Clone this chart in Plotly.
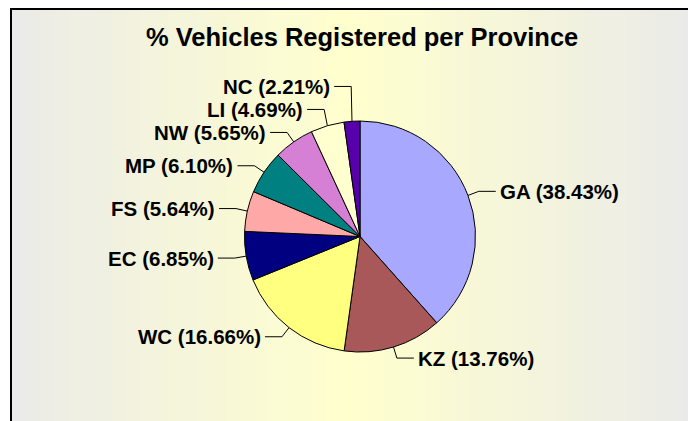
import math
import plotly.graph_objects as go

# ---- data ----
provinces = ["GA", "KZ", "WC", "EC", "FS", "MP", "NW", "LI", "NC"]
shares = [38.43, 13.76, 16.66, 6.85, 5.64, 6.10, 5.65, 4.69, 2.21]
colors = ["#a8a8ff", "#a85858", "#ffff80", "#000080", "#ffa8a8",
          "#008080", "#d580d5", "#ffffd0", "#5500aa"]
title_text = "% Vehicles Registered per Province"

OFF = 8  # page body margin offset
W, H = 696 - OFF, 421 - OFF
CX, CY, R = 360 - OFF, 236.5 - OFF, 115.5
FONT = "Arial, Liberation Sans, sans-serif"

fig = go.Figure()

# background gradient strips and border
shapes = []
x0, x1, y0 = 11 - OFF, W + 2, 9 - OFF
n = 48
edge = (234, 234, 234)
mid = (255, 255, 206)
for i in range(n):
    a = x0 + (x1 - x0) * i / n
    b = x0 + (x1 - x0) * (i + 1) / n
    xc = (a + b) / 2 + OFF
    t = max(0.0, 1 - abs(xc - 348) / 348)
    c = tuple(round(e + (m - e) * t) for e, m in zip(edge, mid))
    shapes.append(dict(type="rect", xref="x", yref="y", x0=a, x1=b + 0.6, y0=y0, y1=H + 5,
                       fillcolor="rgb(%d,%d,%d)" % c, line=dict(width=0), layer="below"))
shapes.append(dict(type="rect", xref="x", yref="y", x0=x0, x1=W + 10, y0=y0, y1=H + 10,
                   line=dict(color="black", width=2), fillcolor="rgba(0,0,0,0)", layer="below"))

# pie
fig.add_trace(go.Pie(
    labels=provinces, values=shares, sort=False, direction="clockwise", rotation=0,
    marker=dict(colors=colors, line=dict(color="black", width=1)),
    textinfo="none", hoverinfo="label+percent", showlegend=False,
    domain=dict(x=[(CX - R) / W, (CX + R) / W], y=[1 - (CY + R) / H, 1 - (CY - R) / H]),
))

# label geometry from data
total = sum(shares)
items = []
cum = 0.0
for p, v in zip(provinces, shares):
    mid_frac = (cum + v / 2) / total
    cum += v
    th = 2 * math.pi * mid_frac
    s, c = math.sin(th), math.cos(th)
    rim = (CX + R * s, CY - R * c)
    elb = [CX + R * 1.1 * s, CY - R * 1.1 * c]
    items.append(dict(p=p, v=v, rim=rim, elb=elb, right=s >= 0))

# de-overlap each side (push upward from the bottom)
gap = 23
for side in (True, False):
    grp = sorted([it for it in items if it["right"] == side], key=lambda d: -d["elb"][1])
    for k in range(1, len(grp)):
        if grp[k]["elb"][1] > grp[k - 1]["elb"][1] - gap:
            grp[k]["elb"][1] = grp[k - 1]["elb"][1] - gap

annotations = []
for it in items:
    ex, ey = it["elb"]
    dx = 17 if it["right"] else -17
    endx = ex + dx
    fig.add_trace(go.Scatter(x=[it["rim"][0], ex, endx], y=[it["rim"][1], ey, ey],
                             mode="lines", line=dict(color="black", width=1),
                             hoverinfo="skip", showlegend=False))
    annotations.append(dict(x=endx + (2 if it["right"] else -2), y=ey, xref="x", yref="y",
                            text="%s (%.2f%%)" % (it["p"], it["v"]), showarrow=False,
                            xanchor="left" if it["right"] else "right", yanchor="middle",
                            font=dict(family=FONT, size=20.5, color="black", weight="bold")))

annotations.append(dict(x=362 - OFF, y=37 - OFF, xref="x", yref="y", text=title_text,
                        showarrow=False, xanchor="center", yanchor="middle",
                        font=dict(family=FONT, size=25.5, color="black", weight="bold")))

fig.update_layout(
    width=W, height=H, margin=dict(l=0, r=0, t=0, b=0),
    paper_bgcolor="white", plot_bgcolor="rgba(0,0,0,0)",
    xaxis=dict(range=[0, W], visible=False, fixedrange=True, domain=[0, 1]),
    yaxis=dict(range=[H, 0], visible=False, fixedrange=True, domain=[0, 1]),
    shapes=shapes, annotations=annotations,
)

fig.write_html("out.html")
